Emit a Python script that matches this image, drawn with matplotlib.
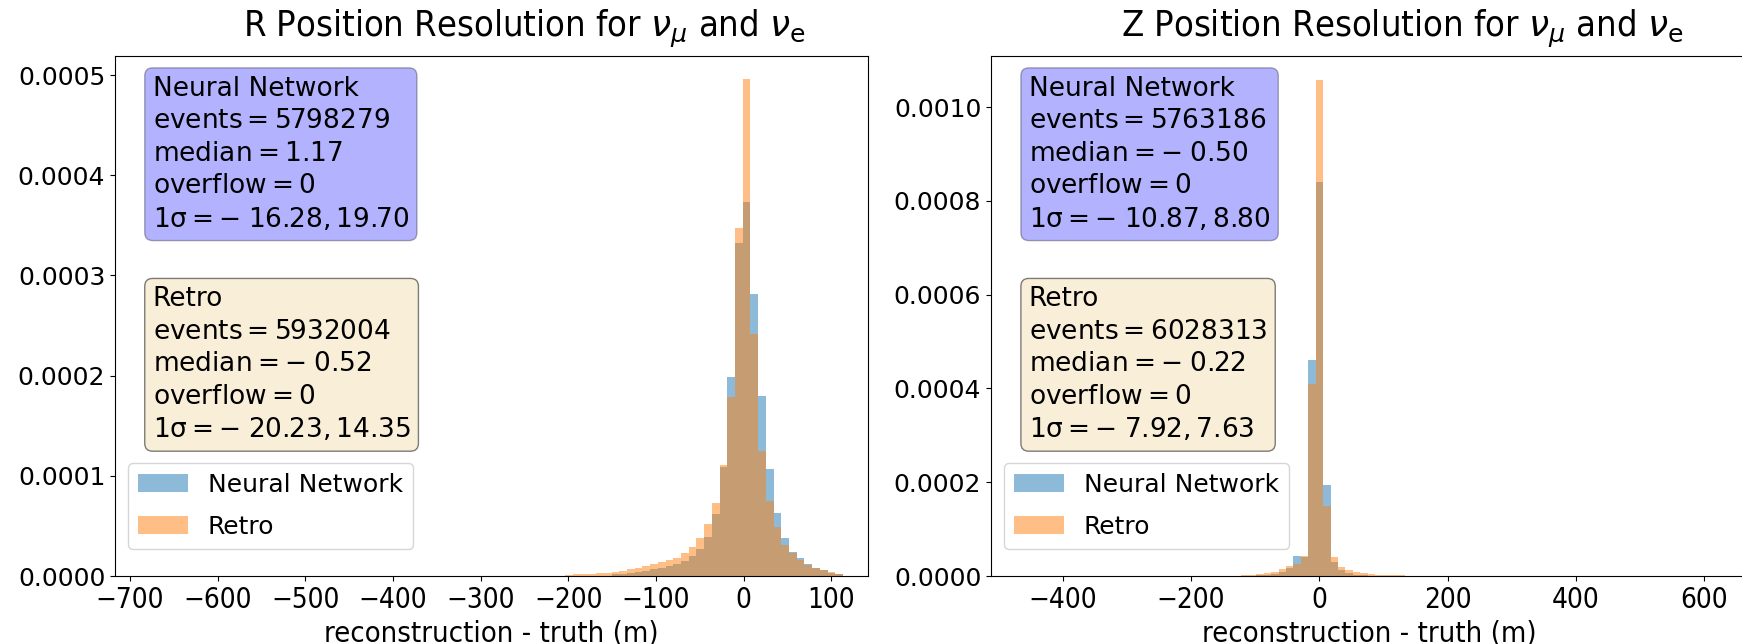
import numpy as np
import matplotlib
matplotlib.use('Agg')
import matplotlib.pyplot as plt

# R resolution: bins of 8.8 m, first edge at -203.4 m
r_first_edge = -203.4
r_bin_width = 8.8
r_nn = [0, 0, 0, 0, 0, 0, 1.6e-6, 2.2e-6, 3.0e-6, 4.0e-6, 5.0e-6, 6.7e-6,
        8.4e-6, 1.00e-5, 1.24e-5, 1.51e-5, 1.98e-5, 2.68e-5, 3.85e-5, 6.19e-5,
        1.09e-4, 1.99e-4, 3.32e-4, 3.73e-4, 2.81e-4, 1.80e-4, 1.07e-4, 6.29e-5,
        3.75e-5, 2.44e-5, 1.77e-5, 1.24e-5, 8.4e-6, 5.7e-6, 3.1e-6, 1.6e-6]
r_retro = [1.2e-6, 1.5e-6, 1.8e-6, 2.2e-6, 2.6e-6, 3.2e-6, 4.0e-6, 5.0e-6,
           6.5e-6, 8.3e-6, 1.00e-5, 1.17e-5, 1.37e-5, 1.61e-5, 1.84e-5, 2.25e-5,
           2.91e-5, 3.75e-5, 5.20e-5, 7.30e-5, 1.11e-4, 1.79e-4, 3.47e-4, 4.96e-4,
           2.42e-4, 1.25e-4, 7.53e-5, 4.86e-5, 3.11e-5, 2.28e-5, 1.61e-5, 1.11e-5,
           8.4e-6, 6.2e-6, 4.0e-6, 2.0e-6]

# Z resolution: bins of 11.6 m, first edge at -121.6 m
z_first_edge = -121.6
z_bin_width = 11.6
z_nn = [0, 1e-6, 2e-6, 3e-6, 5e-6, 9e-6, 1.6e-5, 4.2e-5, 4.0e-5, 4.6e-4,
        8.4e-4, 1.95e-4, 3.0e-5, 1.2e-5, 6e-6, 3e-6, 2e-6, 1e-6, 1e-6, 0, 0, 0, 0]
z_retro = [2e-6, 3e-6, 4e-6, 6e-6, 9e-6, 1.4e-5, 2.2e-5, 2.6e-5, 4.2e-5, 4.1e-4,
           1.058e-3, 1.5e-4, 4.0e-5, 2.0e-5, 1.2e-5, 8e-6, 6e-6, 4e-6, 3e-6, 3e-6,
           2e-6, 2e-6, 1e-6]

r_nn_stats = ['5798279', '1.17', '0', '-\\;16.28, 19.70']
r_retro_stats = ['5932004', '-\\;0.52', '0', '-\\;20.23, 14.35']
z_nn_stats = ['5763186', '-\\;0.50', '0', '-\\;10.87, 8.80']
z_retro_stats = ['6028313', '-\\;0.22', '0', '-\\;7.92, 7.63']

plt.rcParams['font.size'] = 18


def box_text(name, st):
    return '\n'.join((name,
                      r'$\mathrm{events}=%s$' % st[0],
                      r'$\mathrm{median}=%s$' % st[1],
                      r'$\mathrm{overflow}=%s$' % st[2],
                      r'$1\mathrm{\sigma}=%s$' % st[3]))


def draw(ax, first, width, nn, retro, nn_st, retro_st, title):
    edges = first + width * np.arange(len(nn) + 1)
    centers = edges[:-1] + width / 2
    ax.hist(centers, bins=edges, weights=nn, alpha=0.5, label='Neural Network')
    ax.hist(centers, bins=edges, weights=retro, alpha=0.5, label='Retro')
    ax.set_title(title, fontsize=26, fontstretch='condensed', x=0.544, pad=14)
    ax.set_xlabel('reconstruction - truth (m)', fontsize=21, fontstretch='condensed')
    ax.text(0.05, 0.962, box_text('Neural Network', nn_st), transform=ax.transAxes,
            va='top', ha='left', linespacing=1.32, fontsize=19,
            bbox=dict(boxstyle='round', facecolor='blue', alpha=0.3))
    ax.text(0.05, 0.557, box_text('Retro', retro_st), transform=ax.transAxes,
            va='top', ha='left', linespacing=1.32, fontsize=19,
            bbox=dict(boxstyle='round', facecolor='wheat', alpha=0.5))
    ax.legend(loc='lower left', bbox_to_anchor=(0, 0.028), labelspacing=0.72)


fig = plt.figure(figsize=(17.42, 6.44), dpi=100)
ax1 = fig.add_axes([115/1742, 68/644, 753/1742, 520/644])
ax2 = fig.add_axes([991/1742, 68/644, 756/1742, 520/644])

draw(ax1, r_first_edge, r_bin_width, r_nn, r_retro, r_nn_stats, r_retro_stats,
     r'R Position Resolution for $\nu_\mu$ and $\nu_\mathrm{e}$')
ax1.set_xlim(-717, 142)
ax1.set_ylim(0, 0.000519)
ax1.set_xticks([-700, -600, -500, -400, -300, -200, -100, 0, 100])

draw(ax2, z_first_edge, z_bin_width, z_nn, z_retro, z_nn_stats, z_retro_stats,
     r'Z Position Resolution for $\nu_\mu$ and $\nu_\mathrm{e}$')
ax2.set_xlim(-512, 667)
ax2.set_ylim(0, 0.001109)
ax2.set_xticks([-400, -200, 0, 200, 400, 600])

for ax in (ax1, ax2):
    for lab in ax.get_xticklabels():
        lab.set_fontstretch('condensed')
        lab.set_fontsize(20)

plt.savefig('out.png', dpi=100)
